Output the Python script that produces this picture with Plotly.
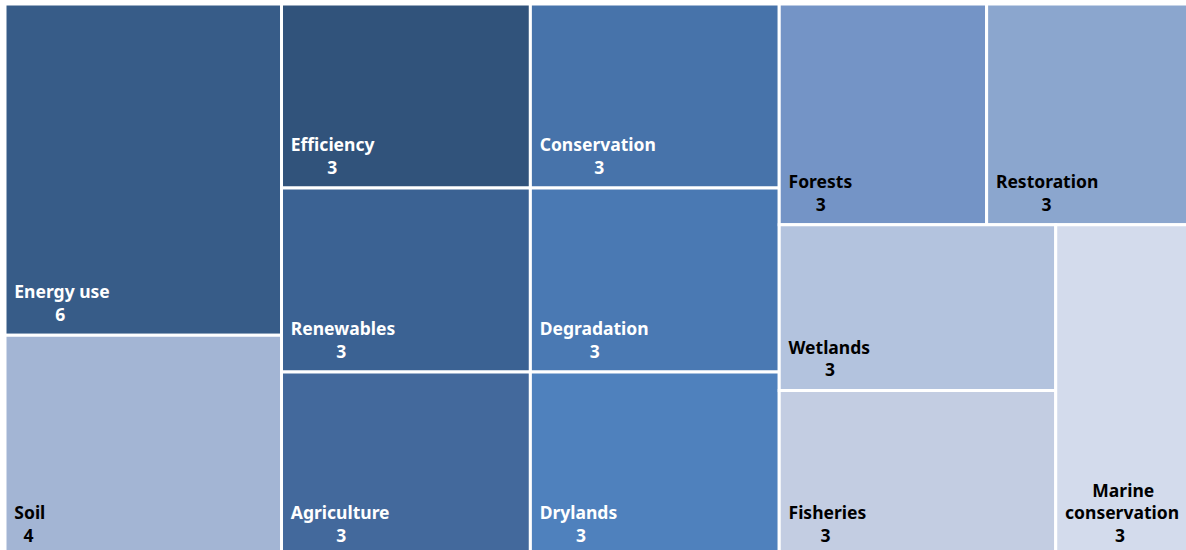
import plotly.graph_objects as go

labels = ["Energy use", "Soil", "Efficiency", "Renewables", "Agriculture",
          "Conservation", "Degradation", "Drylands", "Forests", "Restoration",
          "Wetlands", "Fisheries", "Marine conservation"]
values = [6, 4, 3, 3, 3, 3, 3, 3, 3, 3, 3, 3, 3]
colors = ["#375c88", "#a3b5d4", "#31537b", "#3b6293", "#43699c",
          "#4773aa", "#4a79b3", "#4f81bd", "#7494c6", "#8ba6ce",
          "#b3c3de", "#c3cde2", "#d3dbec"]
text_colors = ["white", "black", "white", "white", "white",
               "white", "white", "white", "black", "black",
               "black", "black", "black"]
parents = [""] * len(labels)

# approximate advance widths (em) of Noto Sans Bold, used to centre the lines
W = {" ": .26, "a": .588, "b": .631, "c": .504, "d": .631, "e": .592, "f": .386,
     "g": .631, "h": .661, "i": .306, "l": .306, "m": 1.0, "n": .661, "o": .618,
     "p": .631, "r": .454, "s": .497, "t": .434, "u": .661, "v": .581, "w": .861,
     "y": .581, "A": .729, "C": .668, "D": .757, "E": .572, "F": .555, "M": .989,
     "R": .700, "S": .576, "W": 1.028}
DIGIT = .572
NBSP = "\u00a0"
LEAD = "\u00a0\u200a"  # small left inset for every line
# invisible larger space at the end of the last line: lifts the text block a bit
TAIL = "<span style=\"font-size:38px\">\u00a0</span>"


def width(s):
    return sum(W.get(ch, DIGIT if ch.isdigit() else .6) for ch in s)


def centred(lines):
    widest = max(width(l) for l in lines)
    out = []
    for l in lines:
        n = int(round((widest - width(l)) / 2 / W[" "]))
        out.append(LEAD + NBSP * n + l)
    return "<br>".join(out) + TAIL


texts = []
for lab, v in zip(labels, values):
    lines = lab.split(" ") if lab == "Marine conservation" else [lab]
    texts.append(centred(lines + [str(v)]))

fig = go.Figure(go.Treemap(
    labels=labels,
    parents=parents,
    values=values,
    text=texts,
    texttemplate="%{text}",
    marker=dict(colors=colors, line=dict(color="white", width=3),
                pad=dict(t=0, l=0, r=0, b=0)),
    textposition="bottom left",
    textfont=dict(family="Noto Sans", size=17.5, weight="bold", color=text_colors),
    sort=True,
    tiling=dict(packing="squarify", pad=0),
    pathbar=dict(visible=False),
    hoverinfo="label+value",
))

fig.update_layout(
    width=1194, height=556,
    margin=dict(l=5, r=0, t=4, b=0),
    paper_bgcolor="white",
)

fig.write_html(
    "out.html",
    config={"displayModeBar": False},
    post_script="document.body.style.margin='0';document.body.style.overflow='hidden';",
)
